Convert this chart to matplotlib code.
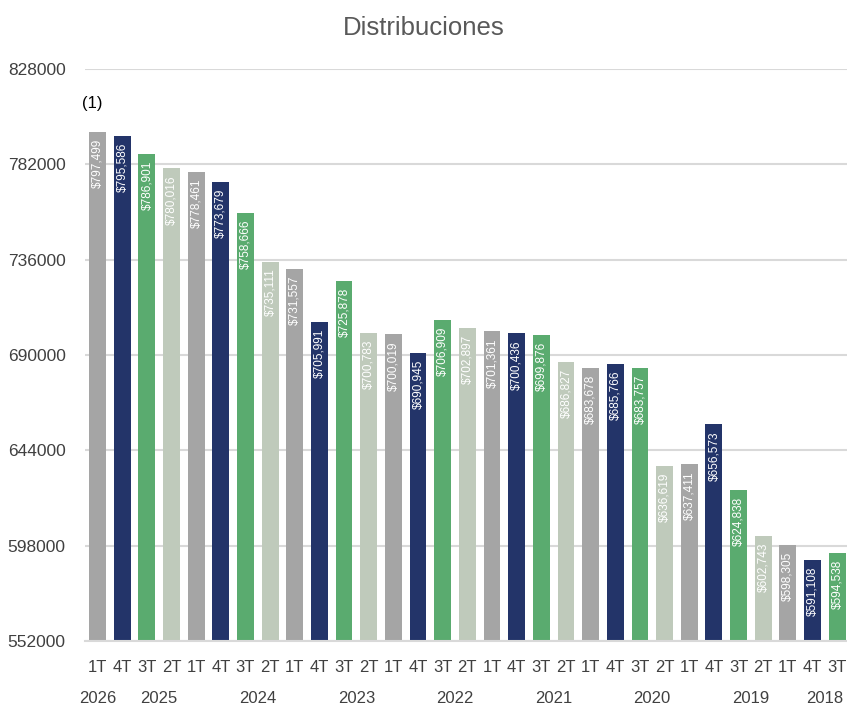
import matplotlib.pyplot as plt
import matplotlib.transforms as mtransforms

quarters = ["1T", "4T", "3T", "2T", "1T", "4T", "3T", "2T", "1T", "4T", "3T", "2T",
            "1T", "4T", "3T", "2T", "1T", "4T", "3T", "2T", "1T", "4T", "3T", "2T",
            "1T", "4T", "3T", "2T", "1T", "4T", "3T"]
values = [797499, 795586, 786901, 780016, 778461, 773679, 758666, 735111,
          731557, 705991, 725878, 700783, 700019, 690945, 706909, 702897,
          701361, 700436, 699876, 686827, 683678, 685766, 683757, 636619,
          637411, 656573, 624838, 602743, 598305, 591108, 594538]
years = ["2026", "2025", "2024", "2023", "2022", "2021", "2020", "2019", "2018"]
year_sizes = [1, 4, 4, 4, 4, 4, 4, 4, 2]
y_ticks = [552000, 598000, 644000, 690000, 736000, 782000, 828000]

quarter_colors = {"1T": "#A5A5A5", "4T": "#233469", "3T": "#5AAB6F", "2T": "#BFCABB"}

plt.rcParams['font.family'] = ['Liberation Sans Narrow', 'Liberation Sans', 'DejaVu Sans']

fig = plt.figure(figsize=(8.47, 7.07), dpi=100)
ax = fig.add_axes([85 / 847, 66 / 707, 762 / 847, 572 / 707])

x = list(range(len(values)))
colors = [quarter_colors[q] for q in quarters]
ax.bar(x, [v - y_ticks[0] for v in values], bottom=y_ticks[0], width=0.68,
       color=colors, zorder=2)

for xi, v in zip(x, values):
    ax.annotate(f"${v:,}", (xi, v), xytext=(0, -5), textcoords="offset points",
                rotation=90, ha="center", va="top", color="white", fontsize=8.5,
                family=['Liberation Sans', 'DejaVu Sans'])

ax.set_ylim(y_ticks[0], y_ticks[-1])
ax.set_xlim(-0.51, 30.4)
ax.set_yticks(y_ticks)
ax.set_yticklabels([str(t) for t in y_ticks], fontsize=12.5, color="#404040")
ax.set_xticks(x)
ax.set_xticklabels(quarters, fontsize=12, color="#404040")
ax.tick_params(axis="both", length=0)
ax.tick_params(axis="x", pad=14)
ax.tick_params(axis="y", pad=14)
for lab in ax.get_yticklabels():
    lab.set_horizontalalignment("right")

ax.grid(axis="y", color="#D9D9D9", linewidth=1.5, zorder=0)
for side in ["top", "right", "left"]:
    ax.spines[side].set_visible(False)
ax.spines["bottom"].set_color("#D9D9D9")
ax.spines["bottom"].set_linewidth(1.5)

trans = mtransforms.blended_transform_factory(ax.transData, ax.transAxes)
start = 0
for yr, n in zip(years, year_sizes):
    center = start + (n - 1) / 2
    ax.text(center, -0.101, yr, transform=trans, ha="center", va="center",
            fontsize=12, color="#404040")
    start += n

ax.text(-0.2, 811500, "(1)", ha="center", va="center", fontsize=12, color="black")

fig.suptitle("Distribuciones", y=0.978, fontsize=18.5, color="#595959",
             family=['Liberation Sans', 'DejaVu Sans'])

fig.savefig("out.png", dpi=100)
